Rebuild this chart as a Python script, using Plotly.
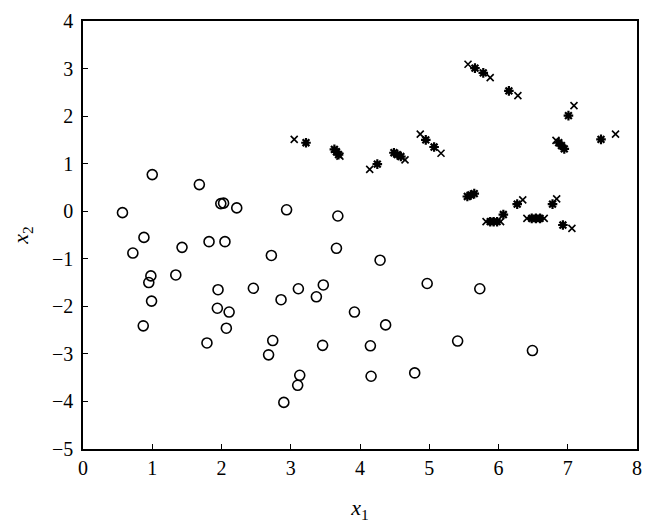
import plotly.graph_objects as go

# Class 1: open circles
circ_x = [0.57, 1.00, 1.68, 1.99, 2.03, 2.22, 0.88, 0.72, 1.43, 1.82, 2.05, 2.72,
          0.98, 0.95, 1.34, 1.95, 2.46, 0.99, 2.86, 0.87, 3.11, 3.47, 1.94, 2.11,
          2.07, 1.79, 3.37, 2.74, 2.68, 3.46, 3.13, 3.10, 2.90, 2.94, 3.68, 3.66,
          4.29, 4.97, 3.92, 4.37, 4.15, 5.41, 4.16, 4.79, 5.73, 6.49]
circ_y = [-0.03, 0.77, 0.56, 0.16, 0.17, 0.07, -0.55, -0.88, -0.76, -0.64, -0.64, -0.93,
          -1.36, -1.50, -1.34, -1.65, -1.62, -1.89, -1.86, -2.41, -1.63, -1.55, -2.04, -2.12,
          -2.46, -2.77, -1.80, -2.72, -3.02, -2.82, -3.45, -3.66, -4.02, 0.03, -0.10, -0.78,
          -1.03, -1.52, -2.12, -2.39, -2.83, -2.73, -3.47, -3.40, -1.63, -2.93]

# Class 2: asterisks
ast_x = [3.22, 3.63, 3.66, 3.69, 4.25, 4.49, 4.54, 4.59, 4.95, 5.07, 5.66, 5.78,
         6.15, 7.01, 6.87, 6.91, 6.95, 7.48, 5.55, 5.60, 5.65, 5.88, 5.93, 5.98,
         6.07, 6.27, 6.48, 6.54, 6.60, 6.78, 6.93]
ast_y = [1.44, 1.30, 1.25, 1.19, 0.99, 1.23, 1.19, 1.15, 1.50, 1.35, 3.01, 2.91,
         2.53, 2.01, 1.44, 1.38, 1.31, 1.51, 0.31, 0.34, 0.37, -0.22, -0.22, -0.22,
         -0.07, 0.15, -0.15, -0.15, -0.15, 0.15, -0.29]

# Class 3: crosses
crs_x = [3.05, 3.71, 4.14, 4.65, 4.87, 5.17, 5.56, 5.88, 6.28, 7.09, 6.83, 7.69,
         5.82, 6.03, 6.35, 6.41, 6.66, 6.84, 7.06]
crs_y = [1.51, 1.16, 0.88, 1.08, 1.62, 1.22, 3.09, 2.81, 2.43, 2.22, 1.49, 1.62,
         -0.22, -0.22, 0.24, -0.15, -0.15, 0.26, -0.36]

x_ticks = [0, 1, 2, 3, 4, 5, 6, 7, 8]
y_ticks = [-5, -4, -3, -2, -1, 0, 1, 2, 3, 4]

fig = go.Figure()
fig.add_trace(go.Scatter(x=circ_x, y=circ_y, mode="markers",
                         marker=dict(symbol="circle-open", size=10, color="black",
                                     line=dict(width=1.6, color="black"))))
fig.add_trace(go.Scatter(x=ast_x, y=ast_y, mode="markers",
                         marker=dict(symbol="asterisk-open", size=8, color="black",
                                     line=dict(width=2.2, color="black"))))
fig.add_trace(go.Scatter(x=crs_x, y=crs_y, mode="markers",
                         marker=dict(symbol="x-thin-open", size=7, color="black",
                                     line=dict(width=1.6, color="black"))))

font_family = "Liberation Serif, DejaVu Serif, serif"
# The page body adds an 8 px margin, so the figure is 8 px smaller and shifted.
fig.update_layout(
    width=645, height=524,
    margin=dict(l=75, r=16, t=13, b=83),
    paper_bgcolor="white", plot_bgcolor="white",
    showlegend=False,
    font=dict(family=font_family, size=20, color="black"),
)
fig.update_xaxes(range=[0, 8], tickvals=x_ticks, ticktext=[str(v) for v in x_ticks],
                 showgrid=False, zeroline=False, showline=True, linecolor="black",
                 linewidth=1.5, mirror=True, ticks="inside", ticklen=5, tickwidth=1.3,
                 tickcolor="black", automargin=False,
                 title=dict(text="<i>x</i><sub>1</sub>", font=dict(size=22), standoff=22))
fig.update_yaxes(range=[-5, 4], tickvals=y_ticks,
                 ticktext=[("\u2212" + str(-v)) if v < 0 else str(v) for v in y_ticks],
                 showgrid=False, zeroline=False, showline=True, linecolor="black",
                 linewidth=1.5, mirror=True, ticks="inside", ticklen=5, tickwidth=1.3,
                 tickcolor="black", automargin=False, ticklabelstandoff=4,
                 title=dict(text="<i>x</i><sub>2</sub>", font=dict(size=22), standoff=20))

fig.write_html("out.html")
